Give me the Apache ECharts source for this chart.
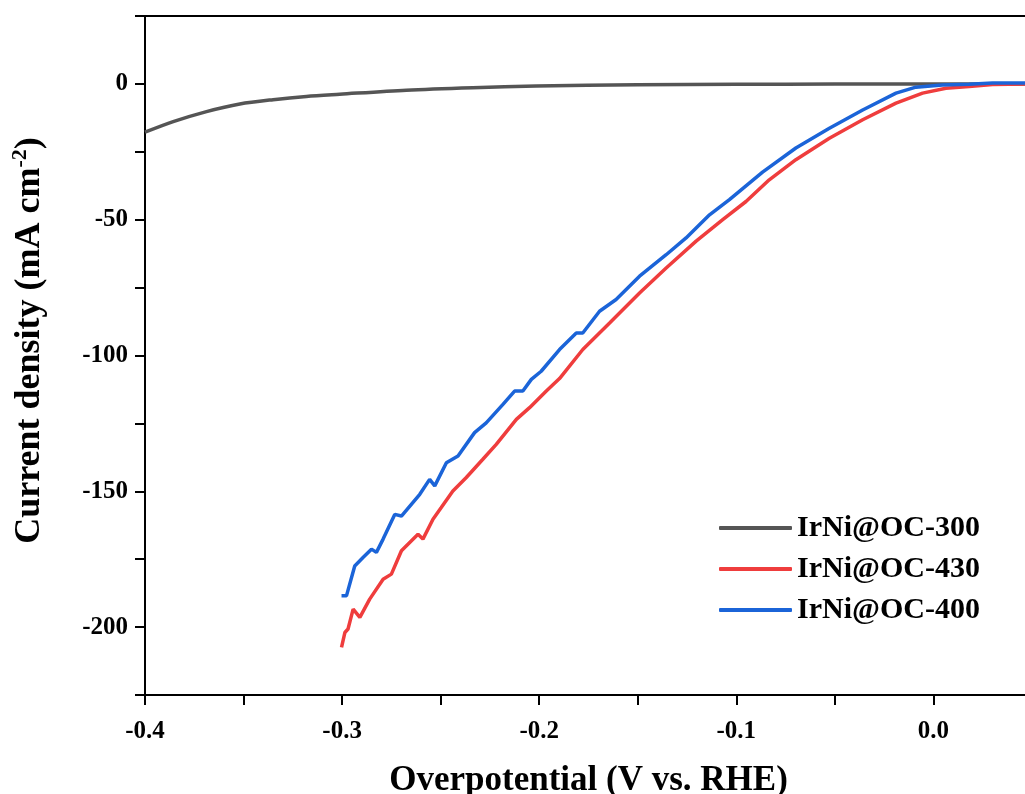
<!DOCTYPE html>
<html>
<head>
<meta charset="utf-8">
<script src="https://cdn.jsdelivr.net/npm/echarts@6.0.0/dist/echarts.min.js"></script>
<style>
  html, body { margin: 0; padding: 0; background: #fff; }
  #chart { width: 1025px; height: 794px; }
</style>
</head>
<body>
<div id="chart"></div>
<script>
// values
const grayX = [-0.4, -0.3857, -0.3688, -0.3519, -0.335, -0.3181, -0.3012, -0.2674, -0.2337, -0.2015, -0.15, -0.1, -0.05, 0, 0.05];
const grayY = [-17.8, -13.9, -10.2, -7.4, -5.8, -4.6, -3.8, -2.3, -1.4, -0.8, -0.35, -0.15, -0.05, 0, 0];

const redX = [-0.3003, -0.2986, -0.297, -0.2944, -0.291, -0.286, -0.2792, -0.275, -0.2699, -0.2615, -0.259, -0.2539,
  -0.2497, -0.2438, -0.237, -0.2286, -0.2218, -0.2116, -0.2049, -0.1964, -0.1897, -0.1779, -0.1711, -0.1643,
  -0.1491, -0.1356, -0.1204, -0.1069, -0.0951, -0.0833, -0.0698, -0.0528, -0.0359, -0.019, -0.0055, 0.0063,
  0.0181, 0.03, 0.05];
const redY = [-207.5, -202.0, -200.7, -193.4, -196.4, -189.7, -182.4, -180.5, -171.9, -165.8, -167.6, -160.3,
  -156.0, -149.9, -144.9, -138.2, -132.7, -123.5, -119.2, -113.1, -108.5, -97.8, -92.9, -88.0,
  -77.0, -67.8, -57.9, -50.0, -43.3, -35.3, -27.9, -20.0, -13.2, -7.1, -3.4, -1.6,
  -1.0, -0.2, 0];

const blueX = [-0.3003, -0.2978, -0.2936, -0.2894, -0.2851, -0.2826, -0.2792, -0.2733, -0.2699, -0.2606, -0.2556,
  -0.253, -0.2471, -0.2412, -0.2328, -0.2269, -0.2184, -0.2125, -0.2083, -0.204, -0.199, -0.1897, -0.1812,
  -0.1779, -0.1694, -0.161, -0.1491, -0.1356, -0.1255, -0.1136, -0.1035, -0.0867, -0.0698, -0.0528, -0.0359,
  -0.019, -0.0089, 0.0046, 0.0181, 0.03, 0.05];
const blueY = [-188.5, -188.5, -177.5, -174.4, -171.3, -172.5, -167.6, -158.5, -159.1, -151.1, -145.6,
  -148.0, -139.5, -137.0, -128.4, -124.8, -118.0, -113.1, -113.1, -108.8, -105.8, -97.8, -91.7,
  -91.7, -83.7, -79.4, -70.8, -62.9, -56.7, -48.2, -42.6, -32.5, -23.6, -16.3, -9.6,
  -3.4, -1.2, -0.4, -0.1, 0.3, 0.3];

const seriesNames = ['IrNi@OC-300', 'IrNi@OC-430', 'IrNi@OC-400'];
const seriesColors = ['#555555', '#ef3d3d', '#1b64d8'];

const font = '"Liberation Serif", "Times New Roman", serif';

function zip(xs, ys) {
  return xs.map((x, i) => [x, ys[i]]);
}

const chart = echarts.init(document.getElementById('chart'), null, { renderer: 'canvas' });

chart.setOption({
  animation: false,
  backgroundColor: '#fff',
  grid: {
    left: 145, top: 16, width: 887, height: 679,
    show: true, borderColor: '#000', borderWidth: 2,
    containLabel: false, outerBoundsMode: 'none'
  },
  legend: {
    orient: 'vertical',
    left: 714, top: 507,
    icon: 'roundRect',
    itemWidth: 73, itemHeight: 4, itemGap: 9,
    textStyle: { fontFamily: font, fontWeight: 'bold', fontSize: 30, color: '#000', lineHeight: 32 },
    data: seriesNames
  },
  xAxis: {
    type: 'value',
    min: -0.4, max: 0.05, interval: 0.05,
    axisLine: { onZero: false, lineStyle: { color: '#000', width: 2 } },
    axisTick: { show: true, length: 10, lineStyle: { color: '#000', width: 2 } },
    splitLine: { show: false },
    axisLabel: {
      margin: 24,
      fontFamily: font, fontWeight: 'bold', fontSize: 25, color: '#000',
      showMaxLabel: false,
      formatter: v => (Math.round(v * 100) % 10 === 0 ? v.toFixed(1) : '')
    },
    name: 'Overpotential (V vs. RHE)',
    nameLocation: 'middle',
    nameGap: 68,
    nameTextStyle: { fontFamily: font, fontWeight: 'bold', fontSize: 35, color: '#000' }
  },
  yAxis: {
    type: 'value',
    min: -225, max: 25, interval: 25,
    axisLine: { onZero: false, lineStyle: { color: '#000', width: 2 } },
    axisTick: { show: true, length: 10, lineStyle: { color: '#000', width: 2 } },
    splitLine: { show: false },
    axisLabel: {
      margin: 17,
      fontFamily: font, fontWeight: 'bold', fontSize: 25, color: '#000',
      formatter: v => (Math.round(v) % 50 === 0 ? String(Math.round(v)) : '')
    },
    name: '{a|Current density (mA cm}{sup|-2}{a|)}',
    nameLocation: 'middle',
    nameRotate: 90,
    nameGap: 94,
    nameTextStyle: {
      padding: [0, 0, 0, 30],
      rich: {
        a: { fontFamily: font, fontWeight: 'bold', fontSize: 36, color: '#000', lineHeight: 42 },
        sup: { fontFamily: font, fontWeight: 'bold', fontSize: 22, color: '#000', lineHeight: 42, verticalAlign: 'top', padding: [0, 0, 15, 0] }
      }
    }
  },
  series: [
    {
      name: seriesNames[0], type: 'line', data: zip(grayX, grayY), smooth: 0.3,
      symbol: 'none', lineStyle: { width: 3.5, color: seriesColors[0] }, itemStyle: { color: seriesColors[0] }
    },
    {
      name: seriesNames[1], type: 'line', data: zip(redX, redY),
      symbol: 'none', lineStyle: { width: 3.5, color: seriesColors[1] }, itemStyle: { color: seriesColors[1] }
    },
    {
      name: seriesNames[2], type: 'line', data: zip(blueX, blueY),
      symbol: 'none', lineStyle: { width: 3.5, color: seriesColors[2] }, itemStyle: { color: seriesColors[2] }
    }
  ]
});
</script>
</body>
</html>
